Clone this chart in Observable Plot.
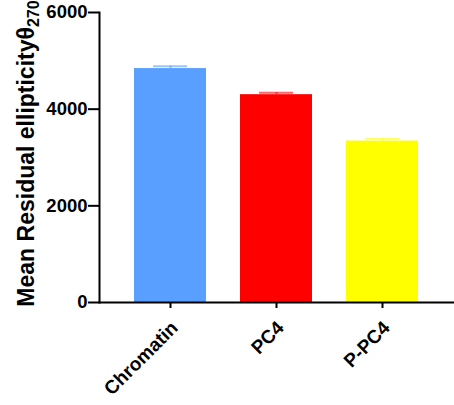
<!DOCTYPE html>
<html>
<head>
<meta charset="utf-8">
<script src="https://cdn.jsdelivr.net/npm/d3@7"></script>
<script src="https://cdn.jsdelivr.net/npm/@observablehq/plot@0.6"></script>
<style>
  html, body { margin: 0; padding: 0; background: #fff; }
</style>
</head>
<body>
<div id="chart"></div>
<script>
const categories = ["Chromatin", "PC4", "P-PC4"];
const values = [4840, 4300, 3340];
const errors = [50, 40, 50];
const colors = ["#599fff", "#ff0000", "#ffff00"];
const yTicks = [0, 2000, 4000, 6000];
const yLabelMain = "Mean Residual ellipticity\u03b8";
const yLabelSub = "270";

const data = categories.map((c, i) => ({ cat: c, value: values[i], err: errors[i], color: colors[i] }));

const font = "'Liberation Sans', Arial, Helvetica, sans-serif";

const plot = Plot.plot({
  width: 454,
  height: 405,
  marginLeft: 99,
  marginRight: 0,
  marginTop: 12,
  marginBottom: 103,
  style: { fontFamily: font, fontSize: "20px", fontWeight: "bold", color: "black", background: "white" },
  x: { domain: categories, padding: 0.32 },
  y: { domain: [0, 6000] },
  marks: [
    Plot.barY(data, { x: "cat", y: "value", fill: "color" }),
    Plot.ruleX(data, { x: "cat", y1: "value", y2: d => d.value + d.err, stroke: "color", strokeWidth: 2, strokeOpacity: 0.6 }),
    Plot.tickY(data, { x: "cat", y: d => d.value + d.err, stroke: "color", strokeWidth: 2, strokeOpacity: 0.6, insetLeft: 19, insetRight: 19 }),
    // axis tick marks (labels drawn as text marks below)
    Plot.axisY({ ticks: yTicks, tickFormat: () => "", tickSize: 11, strokeWidth: 2, label: null }),
    Plot.axisX({ tickFormat: () => "", tickSize: 6, strokeWidth: 2, label: null }),
    Plot.text(yTicks, { y: d => d, text: d => String(d), frameAnchor: "left", textAnchor: "end", lineAnchor: "middle",
      dx: -12, fontSize: 18.5, fontWeight: "bold", fill: "black" }),
    Plot.text(categories, { x: d => d, text: d => d, frameAnchor: "bottom", rotate: -45, textAnchor: "end", lineAnchor: "top",
      dx: -1, dy: 17, fontSize: 19, fontWeight: "bold", fill: "black" }),
    Plot.text([yLabelMain + yLabelSub], { frameAnchor: "left", rotate: -90, dx: -73, dy: -4, lineAnchor: "middle", textAnchor: "middle",
      fontSize: 23, fontWeight: "bold", fill: "black" }),
    Plot.frame({ anchor: "left", strokeWidth: 2 }),
    Plot.frame({ anchor: "bottom", strokeWidth: 2 })
  ]
});

// render the y-axis label with a real subscript
d3.select(plot).selectAll("text").each(function () {
  const t = d3.select(this);
  if (t.text() === yLabelMain + yLabelSub) {
    t.text(null);
    t.append("tspan").text(yLabelMain);
    t.append("tspan").attr("font-size", "16px").attr("dy", "0.3em").text(yLabelSub);
  }
});

document.getElementById("chart").appendChild(plot);
</script>
</body>
</html>
